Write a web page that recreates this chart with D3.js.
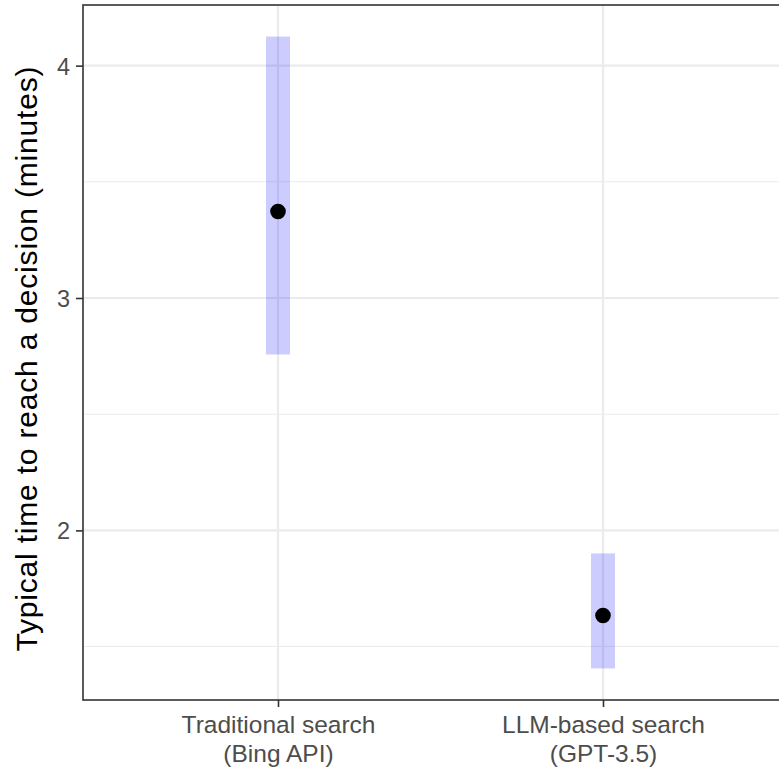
<!DOCTYPE html>
<html>
<head>
<meta charset="utf-8">
<script src="https://cdn.jsdelivr.net/npm/d3@7"></script>
<style>
  html, body { margin: 0; padding: 0; background: #ffffff; }
  svg { display: block; font-family: "Liberation Sans", Arial, Helvetica, sans-serif; }
</style>
</head>
<body>
<svg id="chart" width="779" height="768"></svg>
<script>
// Search condition on the x axis (two lines per label)
const categories = ["Traditional search\n(Bing API)", "LLM-based search\n(GPT-3.5)"];
// Estimated typical decision time (minutes) and its interval
const estimates = [3.372, 1.634];
const lowerBounds = [2.757, 1.406];
const upperBounds = [4.125, 1.901];
// Y axis ticks
const majorTicks = [2, 3, 4];
const minorTicks = [1.5, 2.5, 3.5];
const yTitle = "Typical time to reach a decision (minutes)";

const svg = d3.select("#chart");

// Panel extends slightly past the right edge of the image
const panel = { left: 83, top: 5, right: 798, bottom: 700 };

// Discrete x scale with 0.6 of a step of expansion on each side
const x = d3.scalePoint()
  .domain(categories)
  .range([panel.left, panel.right])
  .padding(0.6);

// Continuous y with 5% expansion
const yMin = d3.min(lowerBounds), yMax = d3.max(upperBounds);
const pad = (yMax - yMin) * 0.05;
const y = d3.scaleLinear()
  .domain([yMin - pad, yMax + pad])
  .range([panel.bottom, panel.top]);

const g = svg.append("g");

svg.append("defs").append("clipPath").attr("id", "pclip")
  .append("rect")
  .attr("x", panel.left).attr("y", panel.top)
  .attr("width", panel.right - panel.left).attr("height", panel.bottom - panel.top);

const inner = g.append("g").attr("clip-path", "url(#pclip)");

// Minor grid
inner.selectAll("line.minor").data(minorTicks).join("line")
  .attr("x1", panel.left).attr("x2", panel.right)
  .attr("y1", d => y(d)).attr("y2", d => y(d))
  .attr("stroke", "#ebebeb").attr("stroke-width", 1.1);

// Major grid
inner.selectAll("line.major").data(majorTicks).join("line")
  .attr("x1", panel.left).attr("x2", panel.right)
  .attr("y1", d => y(d)).attr("y2", d => y(d))
  .attr("stroke", "#ebebeb").attr("stroke-width", 2.2);

inner.selectAll("line.vgrid").data(categories).join("line")
  .attr("x1", d => x(d)).attr("x2", d => x(d))
  .attr("y1", panel.top).attr("y2", panel.bottom)
  .attr("stroke", "#ebebeb").attr("stroke-width", 2.2);

// Interval bands
const bandW = 24;
inner.selectAll("rect.band").data(categories).join("rect")
  .attr("x", d => x(d) - bandW / 2)
  .attr("width", bandW)
  .attr("y", (d, i) => y(upperBounds[i]))
  .attr("height", (d, i) => y(lowerBounds[i]) - y(upperBounds[i]))
  .attr("fill", "#0000ff").attr("fill-opacity", 0.2);

// Point estimates
inner.selectAll("circle.pt").data(categories).join("circle")
  .attr("cx", d => x(d))
  .attr("cy", (d, i) => y(estimates[i]))
  .attr("r", 7.8)
  .attr("fill", "#000000");

// Panel border
g.append("rect")
  .attr("x", panel.left).attr("y", panel.top)
  .attr("width", panel.right - panel.left).attr("height", panel.bottom - panel.top)
  .attr("fill", "none").attr("stroke", "#333333").attr("stroke-width", 1.6);

// Y axis
const yAxis = g.append("g")
  .attr("transform", `translate(${panel.left},0)`)
  .call(d3.axisLeft(y).tickValues(majorTicks).tickFormat(d3.format("d")).tickSize(7).tickPadding(6));
yAxis.select(".domain").remove();
yAxis.selectAll(".tick line").attr("stroke", "#333333").attr("stroke-width", 1.6);
yAxis.selectAll(".tick text")
  .attr("fill", "#4d4d4d").style("font-size", "23.5px").attr("dy", "0.36em");

// X axis
const xAxis = g.append("g")
  .attr("transform", `translate(0,${panel.bottom})`)
  .call(d3.axisBottom(x).tickSize(7).tickFormat(""));
xAxis.select(".domain").remove();
xAxis.selectAll(".tick line").attr("stroke", "#333333").attr("stroke-width", 1.6);
xAxis.selectAll(".tick").each(function(d) {
  const t = d3.select(this).append("text")
    .attr("fill", "#4d4d4d")
    .attr("text-anchor", "middle")
    .style("font-size", "24.5px");
  d.split("\n").forEach((line, k) => {
    t.append("tspan").attr("x", 0).attr("y", 33 + k * 29).text(line);
  });
});

// Y axis title
g.append("text")
  .attr("transform", `translate(37,359) rotate(-90)`)
  .attr("text-anchor", "middle")
  .attr("fill", "#000000")
  .style("font-size", "30px")
  .attr("textLength", 585)
  .attr("lengthAdjust", "spacing")
  .text(yTitle);
</script>
</body>
</html>
